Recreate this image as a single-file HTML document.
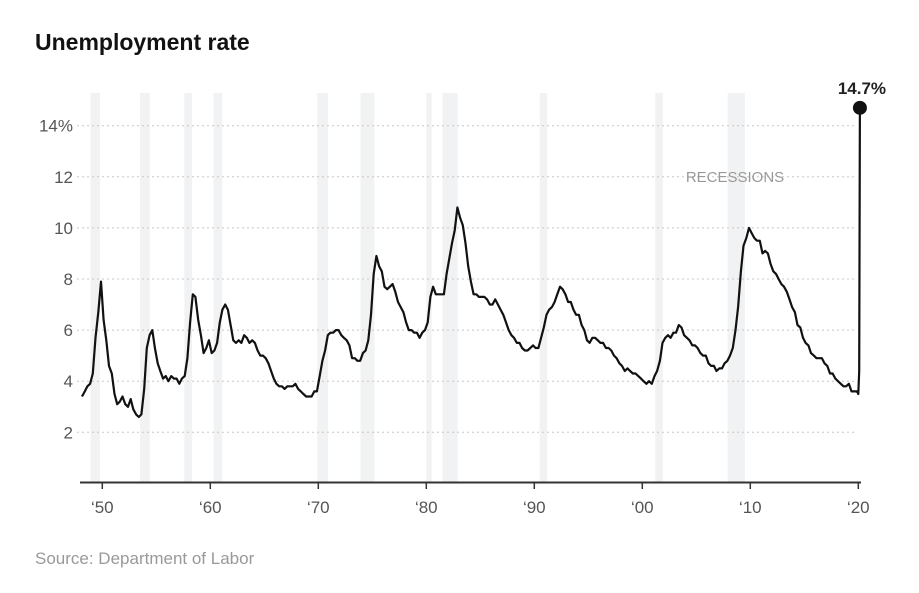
<!DOCTYPE html>
<html><head><meta charset="utf-8"><style>
body{margin:0;background:#fff;}
svg text{font-family:"Liberation Sans",sans-serif;}
</style></head><body>
<svg id="chart" width="919" height="588" xmlns="http://www.w3.org/2000/svg">
<text x="35" y="50" font-size="23" font-weight="bold" fill="#121212">Unemployment rate</text>
<g id="rec"></g><g id="grid"></g><g id="axis"></g><g id="line"></g>
<text x="735" y="182" font-size="15" fill="#999" text-anchor="middle">RECESSIONS</text>
<text x="35" y="564" font-size="17" fill="#999">Source: Department of Labor</text>
</svg>
<script>
const startYear = 1948;
const quarterlyRates = [3.4,3.6,3.8,3.9, 4.3,5.7,6.7,7.9, 6.4,5.6,4.6,4.3, 3.5,3.1,3.2,3.4, 3.1,3.0,3.3,2.9, 2.7,2.6,2.7,3.7,
5.3,5.8,6.0,5.3, 4.7,4.4,4.1,4.2, 4.0,4.2,4.1,4.1, 3.9,4.1,4.2,4.9, 6.3,7.4,7.3,6.4, 5.8,5.1,5.3,5.6,
5.1,5.2,5.5,6.3, 6.8,7.0,6.8,6.2, 5.6,5.5,5.6,5.5, 5.8,5.7,5.5,5.6, 5.5,5.2,5.0,5.0, 4.9,4.7,4.4,4.1,
3.9,3.8,3.8,3.7, 3.8,3.8,3.8,3.9, 3.7,3.6,3.5,3.4, 3.4,3.4,3.6,3.6, 4.2,4.8,5.2,5.8, 5.9,5.9,6.0,6.0,
5.8,5.7,5.6,5.4, 4.9,4.9,4.8,4.8, 5.1,5.2,5.6,6.6, 8.2,8.9,8.5,8.3, 7.7,7.6,7.7,7.8, 7.5,7.1,6.9,6.7,
6.3,6.0,6.0,5.9, 5.9,5.7,5.9,6.0, 6.3,7.3,7.7,7.4, 7.4,7.4,7.4,8.2, 8.8,9.4,9.9,10.8, 10.4,10.1,9.4,8.5,
7.9,7.4,7.4,7.3, 7.3,7.3,7.2,7.0, 7.0,7.2,7.0,6.8, 6.6,6.3,6.0,5.8, 5.7,5.5,5.5,5.3, 5.2,5.2,5.3,5.4,
5.3,5.3,5.7,6.1, 6.6,6.8,6.9,7.1, 7.4,7.7,7.6,7.4, 7.1,7.1,6.8,6.6, 6.6,6.2,6.0,5.6, 5.5,5.7,5.7,5.6,
5.5,5.5,5.3,5.3, 5.2,5.0,4.9,4.7, 4.6,4.4,4.5,4.4, 4.3,4.3,4.2,4.1, 4.0,3.9,4.0,3.9, 4.2,4.4,4.8,5.5,
5.7,5.8,5.7,5.9, 5.9,6.2,6.1,5.8, 5.7,5.6,5.4,5.4, 5.3,5.1,5.0,5.0, 4.7,4.6,4.6,4.4, 4.5,4.5,4.7,4.8,
5.0,5.3,6.0,6.9, 8.3,9.3,9.6,10.0, 9.8,9.6,9.5,9.5, 9.0,9.1,9.0,8.6, 8.3,8.2,8.0,7.8, 7.7,7.5,7.2,6.9,
6.7,6.2,6.1,5.7, 5.5,5.4,5.1,5.0, 4.9,4.9,4.9,4.7, 4.6,4.3,4.3,4.1, 4.0,3.9,3.8,3.8, 3.9,3.6,3.6,3.6];
const finalYears = [2020.0, 2020.08, 2020.15];
const finalRates = [3.5, 4.4, 14.7];
const recStarts = [1948.9,1953.5,1957.6,1960.3,1969.9,1973.9,1980.0,1981.5,1990.5,2001.2,2007.9];
const recEnds   = [1949.8,1954.4,1958.3,1961.1,1970.9,1975.2,1980.5,1982.9,1991.2,2001.9,2009.5];
const yTicks = [2,4,6,8,10,12,14];
const xTickYears = [1950,1960,1970,1980,1990,2000,2010,2020];
const xTickLabels = ["‘50","‘60","‘70","‘80","‘90","‘00","‘10","‘20"];

const NS="http://www.w3.org/2000/svg";
const X = yr => 102.3 + (yr-1950)*10.8;
const Y = v => 483.4 - v*25.55;
function mk(tag, attrs, parent){const e=document.createElementNS(NS,tag);for(const k in attrs)e.setAttribute(k,attrs[k]);document.getElementById(parent).appendChild(e);return e;}

recStarts.forEach((s,i)=>{
  const r=mk('rect',{x:X(s),y:93,width:X(recEnds[i])-X(s),height:390,fill:'#f1f2f3'},'rec');
  
  
});
yTicks.forEach(t=>{
  const l=mk('line',{x1:77,x2:856,y1:Y(t),y2:Y(t),stroke:'#c8c8c8','stroke-dasharray':'2,3','stroke-width':1},'grid');
  
  
  const tx=mk('text',{x:73,y:Y(t)+6,'text-anchor':'end','font-size':17,fill:'#555'},'grid');
  tx.textContent = t===14 ? '14%' : String(t);
  
  
});
const ax=mk('line',{x1:80,x2:861,y1:482.5,y2:482.5,stroke:'#333','stroke-width':2},'axis');


xTickYears.forEach((yr,i)=>{
  const tk=mk('line',{x1:X(yr),x2:X(yr),y1:482,y2:489,stroke:'#333','stroke-width':1.5},'axis');
  
  
  const tx=mk('text',{x:X(yr),y:513,'text-anchor':'middle','font-size':17,fill:'#555'},'axis');
  tx.textContent=xTickLabels[i];
  
  
});
let pts=quarterlyRates.map((v,i)=>[X(startYear+i*0.25+0.125),Y(v)]);
finalYears.forEach((yr,i)=>pts.push([X(yr),Y(finalRates[i])]));
const p=mk('path',{d:'M'+pts.map(q=>q[0].toFixed(1)+','+q[1].toFixed(1)).join('L'),fill:'none',stroke:'#111','stroke-width':2.2,'stroke-linejoin':'round'},'line');


const last=pts[pts.length-1];
const dot=mk('circle',{cx:last[0],cy:last[1],r:7,fill:'#111'},'line');


const lab=mk('text',{x:last[0]+2,y:last[1]-14,'text-anchor':'middle','font-size':17,'font-weight':'bold',fill:'#222'},'line');
lab.textContent=finalRates[finalRates.length-1]+'%';


</script>
</body></html>
